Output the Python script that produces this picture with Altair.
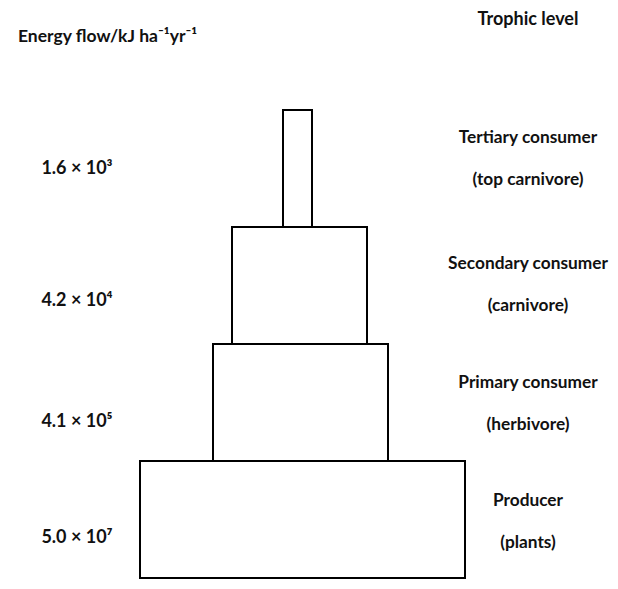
import altair as alt
import pandas as pd

# ---- data ----
levels = ["Producer", "Primary consumer", "Secondary consumer", "Tertiary consumer"]
level_index = [0, 1, 2, 3]
bar_widths = [325, 175, 135, 29]          # schematic widths (relative units)
bar_centers = [2.5, 0.5, -0.5, -2.5]      # slight horizontal offsets of the drawn blocks
energy_labels = ["5.0 × 10⁷", "4.1 × 10⁵", "4.2 × 10⁴", "1.6 × 10³"]
energy_label_y = [0.342, 1.333, 2.368, 3.496]
trophic_labels = [
    "Producer\n(plants)",
    "Primary consumer\n(herbivore)",
    "Secondary consumer\n(carnivore)",
    "Tertiary consumer\n(top carnivore)",
]
trophic_label_y = [0.655, 1.667, 2.684, 3.760]   # first line of each label
header_texts = ["Energy flow/kJ ha⁻¹yr⁻¹", "Trophic level"]
header_x = [-282, 228]
header_y = [4.624, 4.769]
header_align = ["left", "center"]
energy_col_x = -223
trophic_col_x = 228

FONT = "Lato, sans-serif"
FW = "bold"

bars = pd.DataFrame({
    "level": levels,
    "x0": [c - w / 2 for c, w in zip(bar_centers, bar_widths)],
    "x1": [c + w / 2 for c, w in zip(bar_centers, bar_widths)],
    "y0": level_index,
    "y1": [i + 1 for i in level_index],
})
left = pd.DataFrame({"text": energy_labels, "y": energy_label_y, "x": [energy_col_x] * 4})
right = pd.DataFrame({"text": trophic_labels, "y": trophic_label_y, "x": [trophic_col_x] * 4})
heads = pd.DataFrame({"text": header_texts, "x": header_x, "y": header_y, "align": header_align})

xs = alt.Scale(domain=[-292, 310])
ys = alt.Scale(domain=[-0.0256, 4.872])

rects = alt.Chart(bars).mark_rect(fill="white", stroke="black", strokeWidth=2).encode(
    x=alt.X("x0:Q", scale=xs, axis=None),
    x2="x1:Q",
    y=alt.Y("y0:Q", scale=ys, axis=None),
    y2="y1:Q",
)

left_txt = alt.Chart(left).mark_text(
    font=FONT, fontSize=18, fontWeight=FW, color="#111111", align="center", baseline="middle"
).encode(x=alt.X("x:Q", scale=xs, axis=None), y=alt.Y("y:Q", scale=ys, axis=None), text="text:N")

right_txt = alt.Chart(right).mark_text(
    font=FONT, fontSize=17.3, fontWeight=FW, color="#111111", align="center", baseline="middle",
    lineBreak="\n", lineHeight=42,
).encode(x=alt.X("x:Q", scale=xs, axis=None), y=alt.Y("y:Q", scale=ys, axis=None), text="text:N")

head_left = alt.Chart(heads[heads["align"] == "left"]).mark_text(
    font=FONT, fontSize=17.5, fontWeight=FW, color="#111111", align="left", baseline="middle"
).encode(x=alt.X("x:Q", scale=xs, axis=None), y=alt.Y("y:Q", scale=ys, axis=None), text="text:N")

head_center = alt.Chart(heads[heads["align"] == "center"]).mark_text(
    font=FONT, fontSize=18, fontWeight=FW, color="#111111", align="center", baseline="middle"
).encode(x=alt.X("x:Q", scale=xs, axis=None), y=alt.Y("y:Q", scale=ys, axis=None), text="text:N")

chart = alt.layer(rects, left_txt, right_txt, head_left, head_center).properties(
    width=602, height=573, padding=0, autosize=alt.AutoSizeParams(type="none"),
    background="white",
).configure_view(stroke=None)

chart.save("out.html", embed_options={"renderer": "svg", "actions": False})
